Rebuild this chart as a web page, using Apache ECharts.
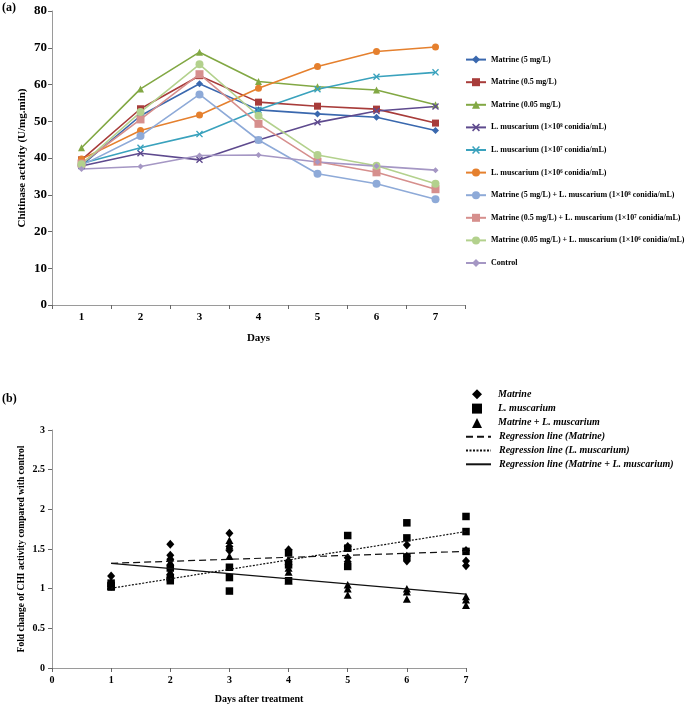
<!DOCTYPE html>
<html><head><meta charset="utf-8">
<script src="https://cdn.jsdelivr.net/npm/echarts@6/dist/echarts.min.js"></script>
<style>html,body{margin:0;padding:0;background:#fff}#c{width:685px;height:706px}</style>
</head><body><div id="c"></div>
<script>
// ---------- Panel (a) data ----------
const days = ['1', '2', '3', '4', '5', '6', '7'];
const namesA = [
  'Matrine (5 mg/L)',
  'Matrine (0.5 mg/L)',
  'Matrine (0.05 mg/L)',
  'L. muscarium (1×10⁸ conidia/mL)',
  'L. muscarium (1×10⁷ conidia/mL)',
  'L. muscarium (1×10⁶ conidia/mL)',
  'Matrine (5 mg/L) + L. muscarium (1×10⁸ conidia/mL)',
  'Matrine (0.5 mg/L) + L. muscarium (1×10⁷ conidia/mL)',
  'Matrine (0.05 mg/L) + L. muscarium (1×10⁶ conidia/mL)',
  'Control'
];
const matrine5   = [38.0, 51.5, 60.2, 53.1, 52.0, 51.1, 47.5];
const matrine05  = [39.5, 53.4, 62.4, 55.2, 54.1, 53.3, 49.5];
const matrine005 = [42.8, 58.8, 68.8, 60.8, 59.4, 58.5, 54.5];
const lm8        = [37.8, 41.3, 39.5, 44.9, 49.7, 52.8, 54.0];
const lm7        = [38.5, 42.8, 46.5, 53.1, 58.7, 62.1, 63.3];
const lm6        = [39.7, 47.5, 51.7, 59.0, 64.9, 69.0, 70.2];
const combo5     = [38.0, 46.0, 57.3, 44.9, 35.7, 33.0, 28.8];
const combo05    = [38.5, 50.5, 62.8, 49.3, 39.0, 36.1, 31.5];
const combo005   = [38.3, 52.5, 65.5, 51.5, 40.8, 37.9, 33.0];
const control    = [37.0, 37.7, 40.7, 40.8, 38.9, 37.8, 36.7];
const valuesA = [matrine5, matrine05, matrine005, lm8, lm7, lm6, combo5, combo05, combo005, control];

// ---------- Panel (b) data ----------
const dayNums = [1, 2, 3, 4, 5, 6, 7];
const foldMatrine = [[1.03, 1.07, 1.16], [1.37, 1.42, 1.56], [1.48, 1.53, 1.70], [1.30, 1.35, 1.49], [1.34, 1.39, 1.53], [1.35, 1.41, 1.55], [1.29, 1.35, 1.48]];
const foldLm      = [[1.02, 1.04, 1.07], [1.10, 1.14, 1.26], [0.97, 1.14, 1.27], [1.10, 1.30, 1.45], [1.28, 1.51, 1.67], [1.40, 1.64, 1.83], [1.47, 1.72, 1.91]];
const foldCombo   = [[1.03, 1.035, 1.04], [1.22, 1.34, 1.39], [1.41, 1.54, 1.61], [1.10, 1.21, 1.26], [0.92, 1.00, 1.05], [0.87, 0.96, 1.00], [0.79, 0.86, 0.90]];
const regDays     = [1, 7];
const regMatrine  = [1.32, 1.47];
const regLm       = [1.005, 1.72];
const regCombo    = [1.32, 0.93];
const namesB = ['Matrine', 'L. muscarium', 'Matrine + L. muscarium',
  'Regression line (Matrine)', 'Regression line (L. muscarium)', 'Regression line (Matrine + L. muscarium)'];

// ---------- styles ----------
const SERIF = '"Liberation Serif","Times New Roman",serif';
const colorsA = ['#3A68AE', '#A83C3A', '#82A844', '#5E4A8E', '#3AA2BD', '#E5802E', '#8EAAD8', '#D68F8D', '#B3D18D', '#A597C4'];
const XPATH = 'path://M0,1.4 L1.4,0 L5,3.6 L8.6,0 L10,1.4 L6.4,5 L10,8.6 L8.6,10 L5,6.4 L1.4,10 L0,8.6 L3.6,5 Z';
const symbolsA = ['diamond', 'rect', 'triangle', XPATH, XPATH, 'circle', 'circle', 'rect', 'circle', 'diamond'];
const sizesA = [7, 7, 7, 7, 7, 7, 8, 8, 8, 6];

const seriesA = valuesA.map((v, i) => ({
  name: namesA[i], type: 'line', xAxisIndex: 0, yAxisIndex: 0,
  data: v, symbol: symbolsA[i], symbolSize: sizesA[i],
  itemStyle: { color: colorsA[i] },
  lineStyle: { color: colorsA[i], width: 1.6 },
  emphasis: { disabled: true }, z: 2
}));

const pairs = (arr) => { const out = []; arr.forEach((vals, d) => vals.forEach(y => out.push([dayNums[d], y]))); return out; };
const regPairs = (ys) => ys.map((y, k) => [regDays[k], y]);

const blackMark = { color: '#000', opacity: 1 };
const seriesB = [
  { name: namesB[0], type: 'scatter', xAxisIndex: 1, yAxisIndex: 1, data: pairs(foldMatrine), symbol: 'diamond', symbolSize: [8, 9], itemStyle: blackMark, z: 3 },
  { name: namesB[1], type: 'scatter', xAxisIndex: 1, yAxisIndex: 1, data: pairs(foldLm), symbol: 'rect', symbolSize: 7.5, itemStyle: blackMark, z: 3 },
  { name: namesB[2], type: 'scatter', xAxisIndex: 1, yAxisIndex: 1, data: pairs(foldCombo), symbol: 'triangle', symbolSize: [8, 7.5], itemStyle: blackMark, z: 3 },
  { name: namesB[3], type: 'line', xAxisIndex: 1, yAxisIndex: 1, data: regPairs(regMatrine), symbol: 'none', itemStyle: { color: '#111' }, lineStyle: { color: '#111', width: 1.2, type: [7, 4] }, z: 4 },
  { name: namesB[4], type: 'line', xAxisIndex: 1, yAxisIndex: 1, data: regPairs(regLm), symbol: 'none', itemStyle: { color: '#111' }, lineStyle: { color: '#111', width: 1.2, type: [2, 1.5] }, z: 4 },
  { name: namesB[5], type: 'line', xAxisIndex: 1, yAxisIndex: 1, data: regPairs(regCombo), symbol: 'none', itemStyle: { color: '#111' }, lineStyle: { color: '#111', width: 1.2, type: 'solid' }, z: 4 }
];

const axisGrey = '#9a9a9a';
const option = {
  animation: false,
  backgroundColor: '#fff',
  grid: [
    { left: 52, top: 11, width: 413, height: 294 },
    { left: 52, top: 430, width: 414, height: 238 }
  ],
  xAxis: [
    { gridIndex: 0, type: 'category', data: days, boundaryGap: true,
      axisLine: { lineStyle: { color: axisGrey, width: 1 } },
      axisTick: { show: true, interval: 0, length: 4, lineStyle: { color: '#666' } },
      axisLabel: { color: '#000', fontFamily: SERIF, fontWeight: 'bold', fontSize: 11, margin: 7 },
      name: 'Days', nameLocation: 'middle', nameGap: 28, nameMoveOverlap: false,
      nameTextStyle: { color: '#000', fontFamily: SERIF, fontWeight: 'bold', fontSize: 11 },
      splitLine: { show: false } },
    { gridIndex: 1, type: 'value', min: 0, max: 7, interval: 1,
      axisLine: { onZero: false, lineStyle: { color: axisGrey, width: 1 } },
      axisTick: { show: true, length: 4, lineStyle: { color: '#666' } },
      axisLabel: { color: '#000', fontFamily: SERIF, fontWeight: 'bold', fontSize: 10, margin: 7 },
      name: 'Days after treatment', nameLocation: 'middle', nameGap: 26, nameMoveOverlap: false,
      nameTextStyle: { color: '#000', fontFamily: SERIF, fontWeight: 'bold', fontSize: 10 },
      splitLine: { show: false } }
  ],
  yAxis: [
    { gridIndex: 0, type: 'value', min: 0, max: 80, interval: 10,
      axisLine: { show: true, lineStyle: { color: axisGrey, width: 1 } },
      axisTick: { show: true, length: 4, lineStyle: { color: '#666' } },
      axisLabel: { color: '#000', fontFamily: SERIF, fontWeight: 'bold', fontSize: 13, margin: 5 },
      name: 'Chitinase activity (U/mg.min)', nameLocation: 'middle', nameGap: 24, nameMoveOverlap: false,
      nameTextStyle: { color: '#000', fontFamily: SERIF, fontWeight: 'bold', fontSize: 11 },
      splitLine: { show: false } },
    { gridIndex: 1, type: 'value', min: 0, max: 3, interval: 0.5,
      axisLine: { show: true, lineStyle: { color: axisGrey, width: 1 } },
      axisTick: { show: true, length: 4, lineStyle: { color: '#666' } },
      axisLabel: { color: '#000', fontFamily: SERIF, fontWeight: 'bold', fontSize: 10, margin: 7 },
      name: 'Fold change of CHI activity compared with control', nameLocation: 'middle', nameGap: 25, nameMoveOverlap: false,
      nameTextStyle: { color: '#000', fontFamily: SERIF, fontWeight: 'bold', fontSize: 9.5 },
      splitLine: { show: false } }
  ],
  legend: [
    { orient: 'vertical', left: 460, top: 49.6, itemWidth: 20, itemHeight: 10, itemGap: 12.6,
      data: namesA, selectedMode: false,
      textStyle: { color: '#000', fontFamily: SERIF, fontWeight: 'bold', fontSize: 8, lineHeight: 10 } },
    { orient: 'vertical', left: 467, top: 384.3, itemWidth: 10, itemHeight: 10, itemGap: 4.3,
      data: namesB.slice(0, 3), selectedMode: false,
      itemStyle: { opacity: 1 },
      textStyle: { color: '#000', fontFamily: SERIF, fontWeight: 'bold', fontStyle: 'italic', fontSize: 10, lineHeight: 10, padding: [0, 0, 0, 11] } },
    { orient: 'vertical', left: 460, top: 426.7, itemWidth: 25, itemHeight: 10, itemGap: 3.8,
      data: namesB.slice(3), selectedMode: false,
      itemStyle: { color: 'rgba(0,0,0,0)', borderWidth: 0, opacity: 0 },
      textStyle: { color: '#000', fontFamily: SERIF, fontWeight: 'bold', fontStyle: 'italic', fontSize: 10, lineHeight: 10, padding: [0, 0, 0, 3] } }
  ],
  graphic: [
    { type: 'text', left: 2, top: 2, style: { text: '(a)', font: 'bold 12px ' + SERIF, fill: '#000' } },
    { type: 'text', left: 2, top: 393, style: { text: '(b)', font: 'bold 12px ' + SERIF, fill: '#000' } }
  ],
  series: seriesA.concat(seriesB)
};

const chart = echarts.init(document.getElementById('c'), null, { renderer: 'canvas' });
chart.setOption(option);
</script>
</body></html>
